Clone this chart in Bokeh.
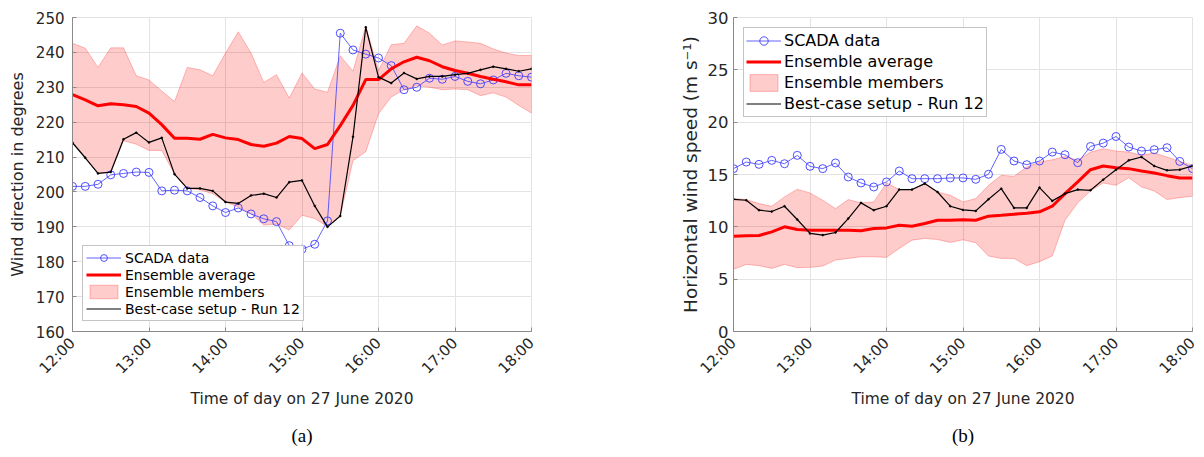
import numpy as np
from bokeh.plotting import figure
from bokeh.layouts import row
from bokeh.models import FixedTicker, Range1d, Title, LegendItem, Legend
from bokeh.embed import file_html
from bokeh.resources import INLINE

# ---- data (10-minute steps from 12:00 to 18:00) ----
minutes = list(range(0, 361, 10))
tick_hours = [12, 13, 14, 15, 16, 17, 18]
tick_labels = ["12:00", "13:00", "14:00", "15:00", "16:00", "17:00", "18:00"]

dir_scada = [201.6, 201.6, 202.2, 204.9, 205.3, 205.7, 205.6, 200.3, 200.5, 200.3,
             198.4, 196.0, 194.1, 195.4, 193.7, 192.3, 191.5, 184.6, 183.6, 185.0,
             191.7, 245.5, 240.7, 239.5, 238.4, 236.2, 229.3, 230.0, 232.6, 232.3,
             233.1, 231.7, 231.0, 232.1, 234.0, 233.3, 232.9]
dir_avg = [227.9, 226.4, 224.7, 225.3, 225.0, 224.5, 222.6, 219.3, 215.4, 215.4,
           215.1, 216.5, 215.5, 215.0, 213.6, 213.1, 214.0, 215.9, 215.3, 212.4,
           213.6, 219.0, 224.8, 232.2, 232.2, 235.3, 237.3, 238.6, 237.6, 235.9,
           234.8, 234.0, 233.1, 232.3, 231.6, 230.7, 230.7]
dir_best = [214.1, 209.8, 205.3, 205.7, 215.1, 217.0, 214.2, 215.5, 205.1, 201.0,
            201.0, 200.3, 197.1, 196.7, 199.0, 199.5, 198.4, 202.8, 203.3, 196.0,
            190.0, 193.1, 215.8, 247.2, 232.9, 231.2, 234.1, 232.4, 233.1, 233.1,
            233.6, 234.0, 235.0, 235.9, 235.3, 234.6, 235.3]
dir_upper = [242.6, 241.2, 235.7, 241.3, 241.3, 233.3, 232.1, 228.9, 225.9, 235.7,
             235.0, 233.3, 239.8, 245.9, 239.8, 231.4, 233.6, 226.9, 234.1, 229.5,
             228.6, 239.0, 234.6, 247.5, 234.8, 242.2, 242.6, 247.6, 245.5, 242.1,
             243.3, 243.0, 242.6, 241.0, 239.8, 239.1, 239.1]
dir_lower = [214.1, 209.8, 205.3, 205.7, 214.7, 213.7, 211.9, 211.9, 205.1, 201.0,
             200.6, 199.5, 197.1, 195.7, 193.8, 190.5, 190.8, 189.1, 193.3, 192.4,
             190.0, 193.1, 209.0, 211.5, 222.4, 227.2, 229.3, 230.5, 230.0, 229.3,
             229.5, 229.3, 227.6, 228.4, 227.2, 224.8, 222.6]

spd_scada = [15.56, 16.19, 15.97, 16.35, 16.03, 16.83, 15.78, 15.56, 16.10, 14.76,
             14.19, 13.81, 14.29, 15.33, 14.60, 14.60, 14.60, 14.67, 14.67, 14.54,
             15.02, 17.40, 16.29, 15.94, 16.29, 17.14, 16.89, 16.13, 17.68, 18.00,
             18.63, 17.62, 17.24, 17.37, 17.56, 16.25, 15.56]
spd_avg = [9.11, 9.14, 9.17, 9.52, 10.00, 9.75, 9.68, 9.68, 9.68, 9.68,
           9.62, 9.84, 9.90, 10.16, 10.06, 10.32, 10.63, 10.63, 10.67, 10.63,
           11.02, 11.11, 11.21, 11.30, 11.43, 11.97, 13.17, 14.29, 15.46, 15.81,
           15.65, 15.56, 15.33, 15.14, 14.89, 14.67, 14.67]
spd_best = [12.63, 12.54, 11.59, 11.46, 11.97, 10.70, 9.37, 9.21, 9.46, 10.79,
            12.29, 11.59, 11.97, 13.56, 13.56, 14.13, 13.33, 11.97, 11.62, 11.52,
            12.63, 13.65, 11.81, 11.81, 13.75, 12.48, 13.17, 13.56, 13.49, 14.51,
            15.46, 16.35, 16.67, 15.81, 15.40, 15.46, 15.81]
spd_upper = [12.70, 12.60, 12.22, 11.97, 12.86, 13.59, 13.24, 12.54, 11.75, 12.60,
             12.29, 12.38, 14.19, 13.56, 13.56, 14.13, 13.33, 13.02, 12.38, 12.70,
             13.97, 14.92, 14.83, 15.71, 16.19, 16.41, 16.73, 16.35, 17.14, 17.46,
             17.24, 17.14, 16.83, 17.05, 16.67, 16.25, 15.87]
spd_lower = [5.94, 6.41, 6.29, 6.03, 6.41, 6.10, 6.13, 6.25, 6.83, 6.98,
             7.14, 7.14, 7.08, 7.94, 8.73, 8.89, 8.79, 8.51, 8.76, 8.48,
             7.21, 6.98, 6.98, 6.29, 6.67, 7.21, 10.63, 12.29, 13.43, 14.19,
             13.97, 14.70, 13.81, 13.43, 12.60, 12.79, 12.92]

hours = [12 + m / 60.0 for m in minutes]

TXT = "#262626"
FONT = "DejaVu Sans"


def make_panel(ylabel, yr, yticks, scada, avg, best, upper, lower,
               width, border_left, border_right, legend_loc, caption,
               ytick_size, ylabel_size, ytick_standoff, ylabel_standoff,
               leg_font, leg_row, leg_pad, leg_standoff):
    p = figure(width=width, height=457, output_backend="svg", toolbar_location=None,
               x_range=Range1d(12, 18), y_range=Range1d(*yr),
               min_border_left=border_left, min_border_right=border_right,
               min_border_top=17, min_border_bottom=125)
    p.background_fill_color = "white"
    p.border_fill_color = "white"
    p.outline_line_color = "#e3e3e3"

    # ensemble band
    xs = hours + hours[::-1]
    ys = upper + lower[::-1]
    r_band = p.patch(xs, ys, fill_color="red", fill_alpha=0.2, line_color="red",
                     line_alpha=0.25, line_width=1)
    # SCADA
    r_sl = p.line(hours, scada, line_color="#3b3bff", line_width=0.8)
    r_sc = p.scatter(hours, scada, marker="circle", size=8, fill_color=None,
                     line_color="#3b3bff", line_width=0.9)
    # ensemble average
    r_avg = p.line(hours, avg, line_color="#ff0000", line_width=3)
    # best-case
    r_bl = p.line(hours, best, line_color="black", line_width=1.2)
    p.scatter(hours, best, marker="circle", size=2, fill_color="black",
              line_color="black", line_width=0.5)

    leg = Legend(items=[
        LegendItem(label="SCADA data", renderers=[r_sl, r_sc]),
        LegendItem(label="Ensemble average", renderers=[r_avg]),
        LegendItem(label="Ensemble members", renderers=[r_band]),
        LegendItem(label="Best-case setup - Run 12", renderers=[r_bl]),
    ])
    p.add_layout(leg, "center")
    leg.location = legend_loc
    leg.margin = 10
    leg.padding = leg_pad
    leg.spacing = 0
    leg.label_text_font = FONT
    leg.label_text_font_size = leg_font
    leg.label_text_color = "black"
    leg.label_height = leg_row
    leg.glyph_height = leg_row
    leg.glyph_width = 35
    leg.label_standoff = leg_standoff
    leg.border_line_color = "#8a8a8a"
    leg.border_line_width = 1
    leg.background_fill_alpha = 1.0

    # axes
    p.xaxis.ticker = FixedTicker(ticks=tick_hours)
    p.xaxis.major_label_overrides = {h: l for h, l in zip(tick_hours, tick_labels)}
    p.xaxis.major_label_orientation = np.pi / 4
    p.yaxis.ticker = FixedTicker(ticks=yticks)
    for ax in (p.xaxis[0], p.yaxis[0]):
        ax.axis_line_color = "#8a8a8a"
        ax.major_tick_line_color = "#8a8a8a"
        ax.major_tick_in = 4
        ax.major_tick_out = 0
        ax.minor_tick_line_color = None
        ax.major_label_text_font = FONT
        ax.major_label_text_color = TXT
        ax.axis_label_text_font = FONT
        ax.axis_label_text_font_style = "normal"
        ax.axis_label_text_color = TXT
    p.xaxis.major_label_text_font_size = "15px"
    p.xaxis.axis_label_text_font_size = "15.5px"
    p.yaxis.major_label_text_font_size = ytick_size
    p.yaxis.axis_label_text_font_size = ylabel_size
    p.xaxis.axis_label = "Time of day on 27 June 2020"
    p.yaxis.axis_label = ylabel
    p.xaxis.axis_label_standoff = 3
    p.yaxis.axis_label_standoff = ylabel_standoff
    p.yaxis.major_label_standoff = ytick_standoff
    p.xaxis.major_label_standoff = 9

    p.xgrid.ticker = FixedTicker(ticks=tick_hours)
    p.ygrid.ticker = FixedTicker(ticks=yticks)
    for g in (p.xgrid[0], p.ygrid[0]):
        g.grid_line_color = "#e3e3e3"
        g.grid_line_width = 1

    cap = Title(text=caption, align="center", text_font="Liberation Serif",
                text_font_size="19px", text_font_style="normal", text_color="black",
                standoff=24)
    p.add_layout(cap, "below")
    return p


p1 = make_panel("Wind direction in degrees", (160, 250), list(range(160, 251, 10)),
                dir_scada, dir_avg, dir_best, dir_upper, dir_lower,
                600, 72, 69, "bottom_left", "(a)",
                "15px", "16px", 8, 6, "14px", 17, 3, 4)
p2 = make_panel("Horizontal wind speed (m s\u207b\u00b9)", (0, 30), list(range(0, 31, 5)),
                spd_scada, spd_avg, spd_best, spd_upper, spd_lower,
                604, 133, 12, "top_left", "(b)",
                "16.5px", "18.5px", 5, 4, "16px", 21, 2, 3)

layout = row(p1, p2, spacing=0)
open("out.html", "w").write(file_html(layout, INLINE))
